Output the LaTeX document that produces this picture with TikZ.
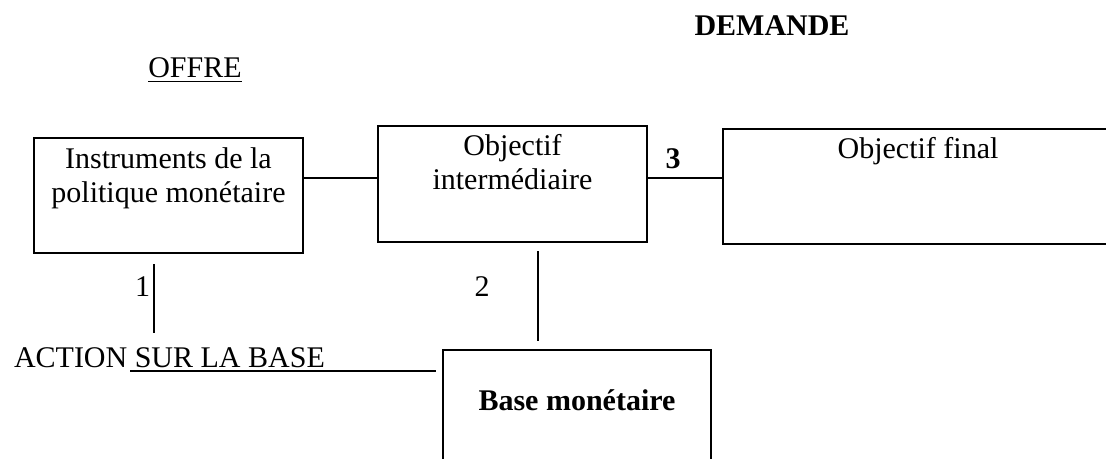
\documentclass[tikz,border=0pt]{standalone}
\usepackage{fontspec}
\setmainfont{Liberation Serif}
\usetikzlibrary{positioning}

\def\s{0.4pt}

\begin{document}
\begin{tikzpicture}[x=0.4pt,y=-0.4pt,line width=0.8pt,
	font=\fontsize{12}{13.6}\selectfont,
	kasten/.style={draw,rectangle,inner sep=0pt},
	txt/.style={anchor=base,inner sep=0pt},
	lbl/.style={align=center,inner sep=0pt}]

\clip (0,0) rectangle (1106,459);

% Kaesten
\node[kasten,minimum width=269*\s,minimum height=115*\s] (instr) at (168.5,195.5) {};
\node[kasten,minimum width=269*\s,minimum height=116*\s] (obj) at (512.5,184) {};
\node[kasten,minimum width=390*\s,minimum height=115*\s] (final) at (918,186.5) {};
\node[kasten,minimum width=268*\s,minimum height=140*\s] (base) at (577,420) {};

\node[lbl,below=9.5*\s of instr.north] (instrtxt) {Instruments de la\\politique monétaire};
\node[lbl,below=8.5*\s of obj.north] (objtxt) {Objectif\\intermédiaire};
\node[lbl,below=8.5*\s of final.north] (finaltxt) {Objectif final};
\node[txt] (basetxt) at (577,410) {\textbf{Base monétaire}};

% Titel
\node[txt] (demande) at (772,36) {\textbf{DEMANDE}};
\node[txt] (offre) at (195,78) {\underline{OFFRE}};
\node[txt,anchor=base west] (action) at (13,367) {ACTION SUR LA BASE};

% Verbindungen
\coordinate (h) at (0,178);
\coordinate (k1) at (154,0);
\coordinate (k2) at (538,0);
\coordinate (u) at ([xshift=117*\s,yshift=-4*\s]action.base west);

\draw (instr.east |- h) -- (obj.west |- h);
\draw (obj.east |- h) -- (final.west |- h);
\draw[shorten <=10*\s,shorten >=13*\s] (instr.south -| k1) -- (action.north -| k1);
\draw[shorten <=8*\s,shorten >=8*\s] (obj.south -| k2) -- (base.north -| k2);
\draw[shorten >=6*\s] (u) -- (u -| base.west);

\node[txt,anchor=base east] (eins) at (151,296) {1};
\node[txt] (zwei) at (482,296) {2};
\node[txt] (drei) at (673,168) {\textbf{3}};

\end{tikzpicture}
\end{document}
